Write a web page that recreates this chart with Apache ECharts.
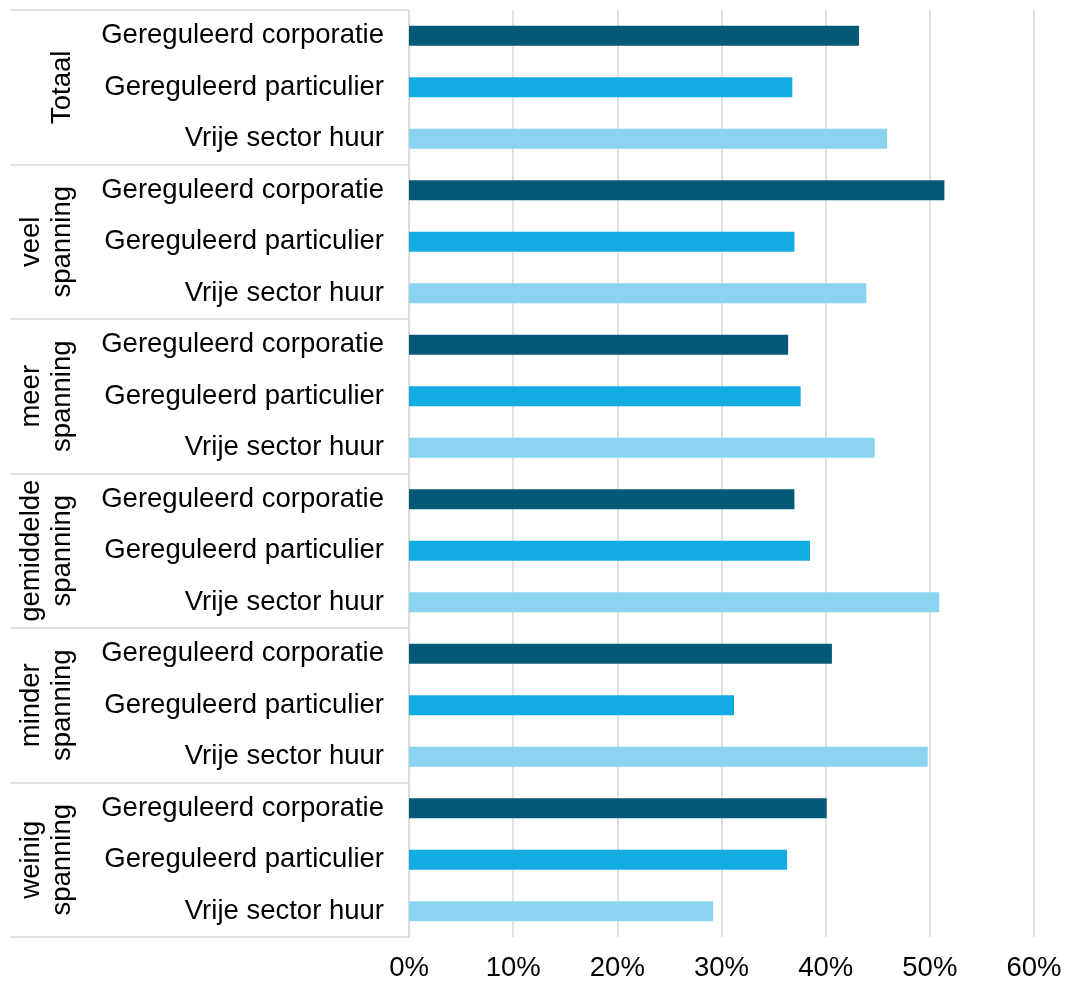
<!DOCTYPE html>
<html>
<head>
<meta charset="utf-8">
<script src="https://cdn.jsdelivr.net/npm/echarts@6/dist/echarts.min.js"></script>
<style>
html,body{margin:0;padding:0;background:#fff;}
#chart{width:1066px;height:982px;}
</style>
</head>
<body>
<div id="chart"></div>
<script>
const groups = ['Totaal', 'veel\nspanning', 'meer\nspanning', 'gemiddelde\nspanning', 'minder\nspanning', 'weinig\nspanning'];
const types = ['Gereguleerd corporatie', 'Gereguleerd particulier', 'Vrije sector huur'];
const corporatie = [43.2, 51.4, 36.4, 37.0, 40.6, 40.1];
const particulier = [36.8, 37.0, 37.6, 38.5, 31.2, 36.3];
const vrijeSector = [45.9, 43.9, 44.7, 50.9, 49.8, 29.2];
const xTicks = [0, 10, 20, 30, 40, 50, 60];

const colors = ['#045a76', '#12ace2', '#8ad4f0'];
const seriesVals = [corporatie, particulier, vrijeSector];

const cats = [];
const data = [];
groups.forEach((g, gi) => {
  types.forEach((t, ti) => {
    cats.push(t);
    data.push({ value: seriesVals[ti][gi], itemStyle: { color: colors[ti] } });
  });
});

const font = 'Liberation Sans, Arial, sans-serif';
const chart = echarts.init(document.getElementById('chart'));
chart.setOption({
  animation: false,
  backgroundColor: '#fff',
  grid: { left: 409, right: 32, top: 10, bottom: 45, containLabel: false },
  xAxis: {
    type: 'value',
    min: xTicks[0], max: xTicks[xTicks.length - 1], interval: 10,
    axisLabel: { formatter: '{value}%', fontSize: 27.5, color: '#000', fontFamily: font, margin: 17 },
    axisLine: { show: false },
    axisTick: { show: false },
    splitLine: { lineStyle: { color: '#d9d9d9', width: 1.5 } }
  },
  yAxis: [
    {
      type: 'category', data: cats, inverse: true,
      axisLine: { lineStyle: { color: '#d9d9d9', width: 1.5 } },
      axisTick: { show: false },
      axisLabel: { interval: 0, fontSize: 27.5, color: '#000', fontFamily: font, margin: 25 }
    },
    {
      type: 'category', data: groups, inverse: true, position: 'left',
      axisLine: { show: false },
      axisTick: { show: true, interval: 0, length: 399, lineStyle: { color: '#d9d9d9', width: 1.5 } },
      axisLabel: { interval: 0, rotate: 90, fontSize: 27.5, color: '#000', fontFamily: font, margin: 331, lineHeight: 31, align: 'center' }
    }
  ],
  series: [{
    type: 'bar', yAxisIndex: 0, data: data, barWidth: 20
  }]
});
</script>
</body>
</html>
